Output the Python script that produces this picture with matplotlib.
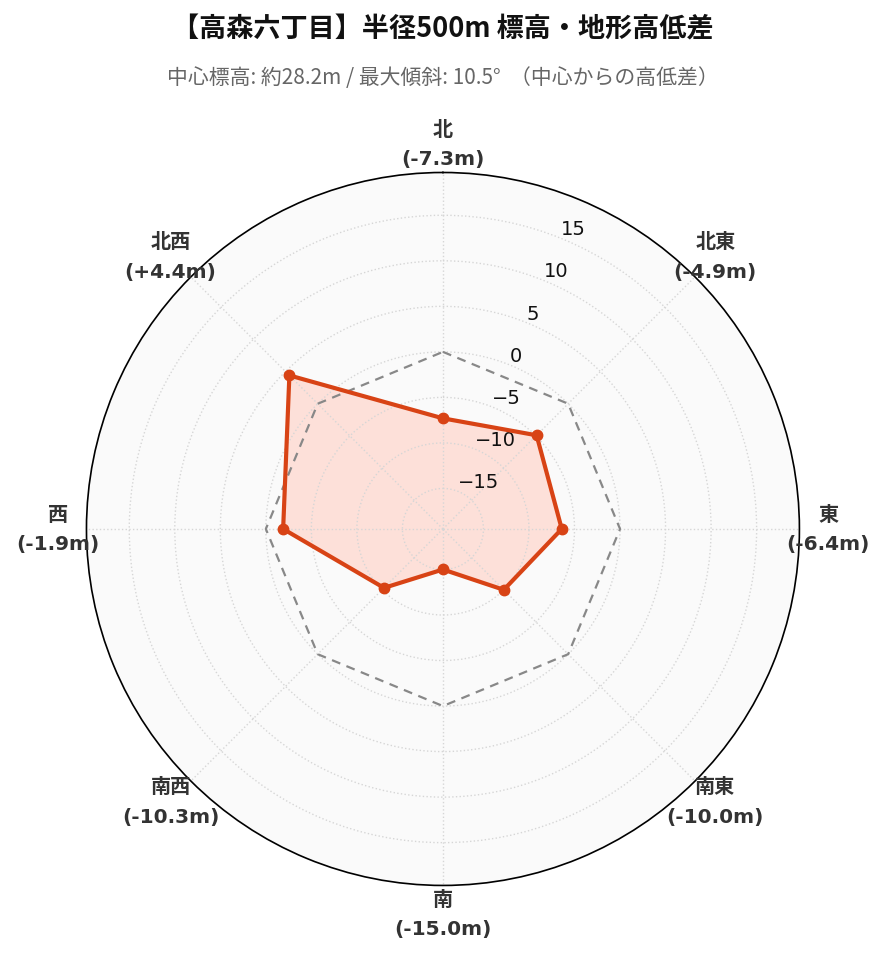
import numpy as np
import matplotlib
matplotlib.use("Agg")
import matplotlib.pyplot as plt

plt.rcParams['font.family'] = ['Noto Sans CJK JP', 'DejaVu Sans']

# 8方位の高低差 (中心からの差, m)
directions = ['北', '北東', '東', '南東', '南', '南西', '西', '北西']
diffs = [-7.3, -4.9, -6.4, -10.0, -15.0, -10.3, -1.9, 4.4]
r_ticks = [-15, -10, -5, 0, 5, 10, 15]

title = '【高森六丁目】半径500m 標高・地形高低差'
subtitle = '中心標高: 約28.2m / 最大傾斜: 10.5°  （中心からの高低差）'

line_color = '#d84315'
fill_color = '#fde0d9'

theta = np.deg2rad(np.arange(len(directions)) * 45.0)
theta_c = np.append(theta, theta[0])
diffs_c = np.append(diffs, diffs[0])
zero_c = np.zeros(len(theta_c))

fig = plt.figure(figsize=(8.85, 9.62), dpi=100)
ax = fig.add_axes([0.0977, 0.0785, 0.8056, 0.7412], projection='polar')
ax.set_theta_zero_location('N')
ax.set_theta_direction(-1)
ax.set_ylim(-19.45, 19.7)
ax.set_facecolor('#fafafa')

# grid
ax.set_xticks(theta)
ax.set_xticklabels([])
ax.set_yticks(r_ticks)
ax.set_yticklabels([f'{t}'.replace('-', '\u2212') for t in r_ticks],
                   fontsize=14, color='#111111', family='DejaVu Sans')
ax.set_rlabel_position(22)
ax.grid(True, color='#d6d6d6', linestyle=':', linewidth=1.0)
ax.tick_params(axis='y', pad=0)
ax.spines['polar'].set_color('black')
ax.spines['polar'].set_linewidth(1.2)

# 0m reference
ax.plot(theta_c, zero_c, color='#888888', linestyle='--', linewidth=1.6,
        dashes=(4, 3), zorder=3)

# data polygon
ax.fill(theta_c, diffs_c, color=fill_color, zorder=1.2)
ax.plot(theta_c, diffs_c, color=line_color, linewidth=3.0, zorder=4)
ax.plot(theta, diffs, 'o', color=line_color, markersize=7.5, zorder=5)

# direction labels
for t, name, d in zip(theta, directions, diffs):
    ax.text(t, 22.85, f'{name}\n({d:+.1f}m)' if d > 0 else f'{name}\n({d:.1f}m)',
            ha='center', va='center', fontsize=14.5, fontweight='bold',
            color='#333333', family=['DejaVu Sans', 'Noto Sans CJK JP'],
            linespacing=1.7, clip_on=False)

fig.text(0.5, 0.969, title, ha='center', va='center', fontsize=19.5,
         fontweight='bold', color='#111111')
fig.text(0.5, 0.919, subtitle, ha='center', va='center', fontsize=15,
         color='#666666')

fig.savefig('out.png', dpi=100)
